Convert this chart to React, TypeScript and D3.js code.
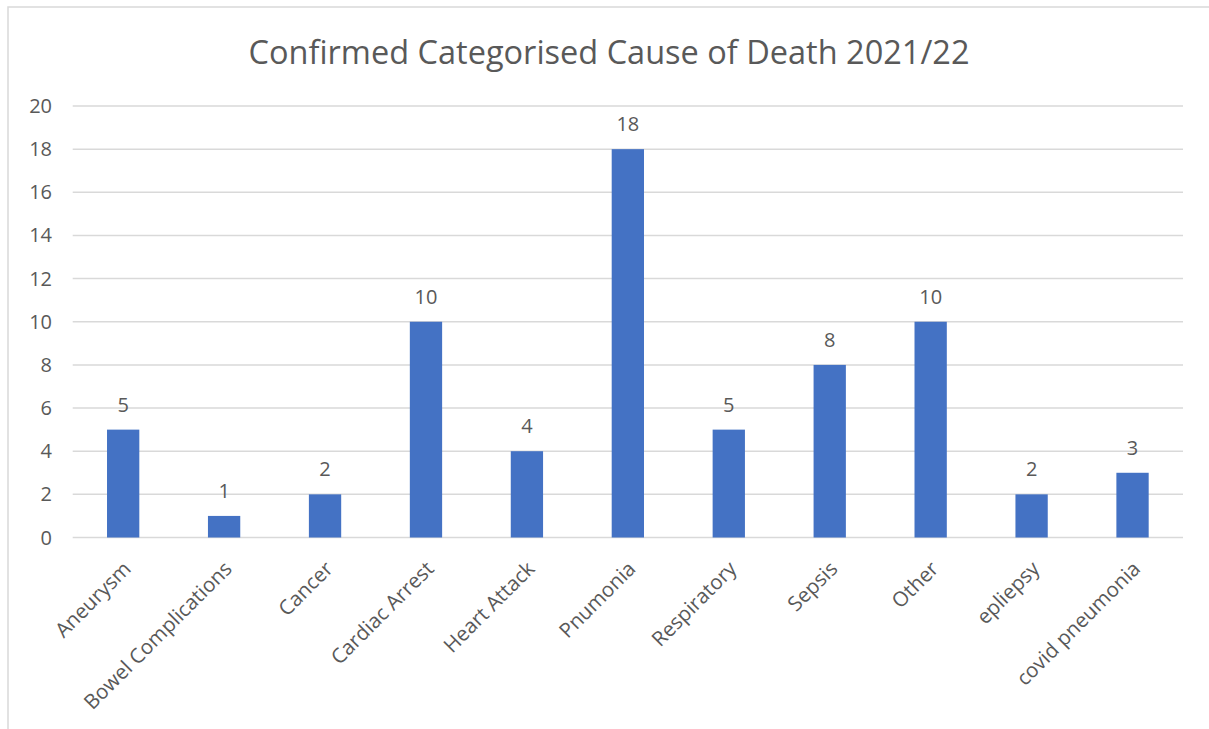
import React from "react";
import * as d3 from "d3";

const categories = ["Aneurysm", "Bowel Complications", "Cancer", "Cardiac Arrest", "Heart Attack", "Pnumonia", "Respiratory", "Sepsis", "Other", "epliepsy", "covid pneumonia"];
const values = [5, 1, 2, 10, 4, 18, 5, 8, 10, 2, 3];
const yTicks = [0, 2, 4, 6, 8, 10, 12, 14, 16, 18, 20];
const title = "Confirmed Categorised Cause of Death 2021/22";

const W = 1209, H = 729;
const left = 72.7, right = 1183, top = 106, bottom = 537.5;
const font = "'Open Sans', 'Noto Sans', sans-serif";
const textColor = "#595959";

export default function App() {
  const x = d3.scaleBand<string>().domain(categories).range([left, right]).paddingInner(0.68).paddingOuter(0.34);
  const y = d3.scaleLinear().domain([0, 20]).range([bottom, top]);
  return (
    <svg width={W} height={H} style={{ position: "absolute", left: 0, top: 0 }}>
      <rect x={0} y={0} width={W} height={H} fill="#fff" />
      <rect x={8} y={7} width={W + 10} height={H + 10} fill="#fff" stroke="#d9d9d9" strokeWidth={1.5} />
      <text x={609} y={64} textAnchor="middle" fontFamily={font} fontSize={32.5} fill={textColor}>{title}</text>
      {yTicks.map(t => (
        <g key={t}>
          <line x1={left} x2={right} y1={y(t)} y2={y(t)} stroke="#d9d9d9" strokeWidth={1.5} />
          <text x={52} y={y(t)} dy="0.35em" textAnchor="end" fontFamily={font} fontSize={20} fill={textColor}>{t}</text>
        </g>
      ))}
      {categories.map((c, i) => {
        const cx = (x(c) as number) + x.bandwidth() / 2;
        return (
          <g key={c}>
            <rect x={x(c)} y={y(values[i])} width={x.bandwidth()} height={bottom - y(values[i])} fill="#4472C4" />
            <text x={cx} y={y(values[i]) - 18} textAnchor="middle" fontFamily={font} fontSize={20} fill={textColor}>{values[i]}</text>
            <text transform={`translate(${cx + 4},${565}) rotate(-45)`} textAnchor="end" dy="0.35em" fontFamily={font} fontSize={20.5} fill={textColor}>{c}</text>
          </g>
        );
      })}
    </svg>
  );
}
